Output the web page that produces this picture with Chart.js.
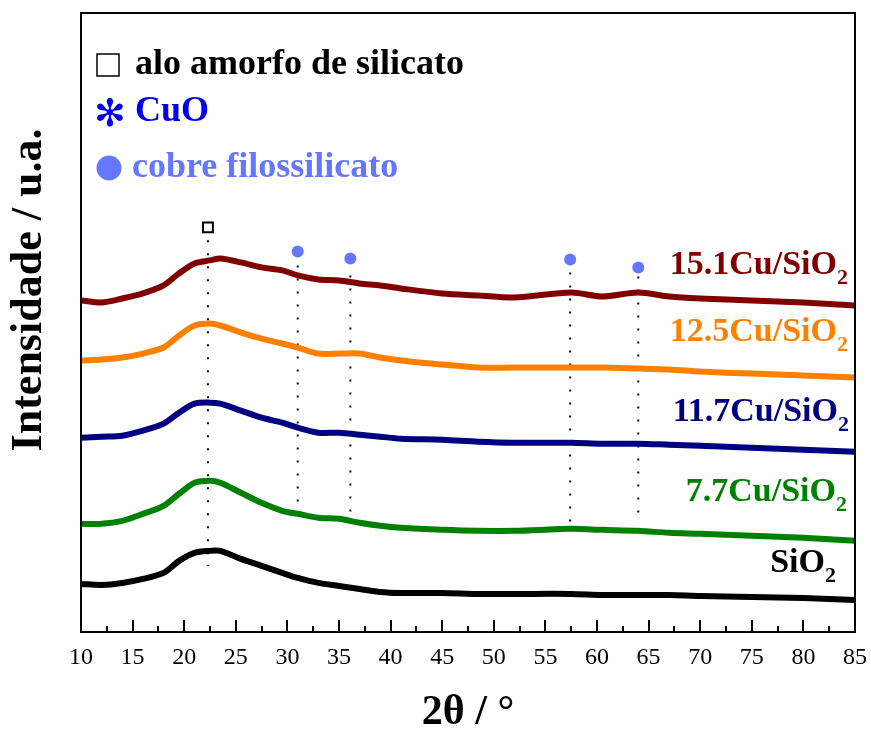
<!DOCTYPE html>
<html>
<head>
<meta charset="utf-8">
<script src="https://cdn.jsdelivr.net/npm/chart.js@4"></script>
<style>
  html, body { margin: 0; padding: 0; background: #fff; }
  #wrap { width: 871px; height: 733px; }
</style>
</head>
<body>
<div id="wrap"><canvas id="xrdChart" width="871" height="733"></canvas></div>
<script>
// 2θ positions where the traces were read
const twoTheta = [10, 12, 14, 16, 18, 19.5, 21, 22.5, 23.5, 25.5, 27.5, 29.5, 31, 33, 35, 37, 39, 41, 45, 48.5, 52, 57.5, 60.5, 64, 67, 70, 75, 80, 85];

// intensities (arbitrary units, already offset for stacking)
const sio2   = [48, 47, 49, 53, 59, 71, 79, 81, 81, 73, 66, 59, 54, 49, 46, 43, 40, 39, 39, 38, 38, 38, 37, 37, 37, 36, 35, 34, 32];
const cu77   = [108, 108, 111, 118, 126, 138, 149, 151, 149, 139, 129, 121, 118, 114, 113, 109, 106, 104, 102, 101, 101, 103, 102, 101, 99, 98, 96, 94, 91];
const cu117  = [194, 195, 196, 201, 208, 219, 228, 229, 228, 221, 214, 209, 204, 199, 199, 197, 195, 193, 192, 190, 189, 189, 188, 188, 187, 186, 184, 182, 180];
const cu125  = [271, 272, 274, 278, 284, 296, 306, 308, 306, 299, 293, 288, 284, 278, 278, 278, 274, 271, 267, 264, 264, 264, 264, 263, 262, 260, 258, 256, 254];
const cu151  = [331, 329, 333, 338, 346, 358, 368, 371, 373, 369, 364, 361, 356, 352, 351, 348, 346, 343, 338, 336, 334, 339, 335, 339, 335, 333, 331, 329, 326];

const seriesNames  = ["SiO2", "7.7Cu/SiO2", "11.7Cu/SiO2", "12.5Cu/SiO2", "15.1Cu/SiO2"];
const seriesColors = ["#000000", "#008000", "#000080", "#ff8000", "#800000"];

// phase markers
const amorphousPos = [22.3];
const amorphousY   = [404];
const phylloPos    = [31.0, 36.1, 57.4, 64.0];
const phylloY      = [380, 373, 372, 364];
// dotted guide lines: 2θ, top, bottom
const guideX      = [22.3, 31.0, 36.1, 57.4, 64.0];
const guideTop    = [391, 366, 356, 359, 355];
const guideBottom = [66, 121, 109, 108, 111];

const xTicks = [10, 15, 20, 25, 30, 35, 40, 45, 50, 55, 60, 65, 70, 75, 80, 85];

const serif = "'Liberation Serif', 'Times New Roman', serif";

function toPoints(ys) {
  return twoTheta.map((x, i) => ({ x: x, y: ys[i] }));
}

const datasets = [];

guideX.forEach((gx, i) => {
  datasets.push({
    data: [{ x: gx, y: guideTop[i] }, { x: gx, y: guideBottom[i] }],
    borderColor: "#000",
    borderWidth: 2,
    borderDash: [2, 11],
    pointRadius: 0,
    order: 10
  });
});

[sio2, cu77, cu117, cu125, cu151].forEach((ys, i) => {
  datasets.push({
    label: seriesNames[i],
    data: toPoints(ys),
    borderColor: seriesColors[i],
    borderWidth: 6,
    pointRadius: 0,
    tension: 0.3,
    order: 5
  });
});

datasets.push({
  data: amorphousPos.map((x, i) => ({ x: x, y: amorphousY[i] })),
  showLine: false,
  pointStyle: "rect",
  pointRadius: 7,
  pointBackgroundColor: "#fff",
  pointBorderColor: "#000",
  pointBorderWidth: 2,
  order: 1
});

datasets.push({
  data: phylloPos.map((x, i) => ({ x: x, y: phylloY[i] })),
  showLine: false,
  pointStyle: "circle",
  pointRadius: 6,
  pointBackgroundColor: "#6677ff",
  pointBorderColor: "#6677ff",
  pointBorderWidth: 0,
  order: 1
});

// frame, inward ticks, titles, legend and labels
const decorPlugin = {
  id: "decor",
  afterDatasetsDraw(chart) {
    const ctx = chart.ctx;
    const a = chart.chartArea;
    const xs = chart.scales.x;
    ctx.save();

    // frame
    ctx.strokeStyle = "#000";
    ctx.lineWidth = 2;
    ctx.strokeRect(a.left, a.top, a.right - a.left, a.bottom - a.top);

    // inward ticks
    for (let v = 10; v <= 85; v += 2.5) {
      const px = Math.round(xs.getPixelForValue(v));
      const len = (v % 5 === 0) ? 12 : 6;
      ctx.beginPath();
      ctx.moveTo(px, a.bottom);
      ctx.lineTo(px, a.bottom - len);
      ctx.stroke();
    }

    ctx.fillStyle = "#000";
    ctx.textAlign = "center";
    ctx.textBaseline = "middle";

    // x title
    ctx.font = "bold 42px " + serif;
    ctx.fillText("2\u03B8 / \u00B0", 468, 713);

    // y title
    ctx.save();
    ctx.translate(30, 290);
    ctx.rotate(-Math.PI / 2);
    ctx.font = "bold 44px " + serif;
    ctx.fillText("Intensidade / u.a.", 0, 0);
    ctx.restore();

    // legend
    ctx.textAlign = "left";
    ctx.lineWidth = 1.5;
    ctx.strokeRect(97, 54, 22, 22);
    ctx.font = "bold 36px " + serif;
    ctx.fillText("alo amorfo de silicato", 135, 65);

    ctx.fillStyle = "#0000ee";
    ctx.font = "bold 38px 'DejaVu Sans'";
    ctx.textAlign = "center";
    ctx.fillText("\u273B", 110, 116);
    ctx.textAlign = "left";
    ctx.font = "bold 36px " + serif;
    ctx.fillText("CuO", 135, 112);

    ctx.fillStyle = "#6677ff";
    ctx.beginPath();
    ctx.arc(109, 168, 12.5, 0, Math.PI * 2);
    ctx.fill();
    ctx.fillText("cobre filossilicato", 132, 168);

    // series labels with subscript 2
    const labelY = [563, 492, 412, 332, 265];
    const labelRight = [836, 847, 849, 848, 848];
    seriesNames.forEach((name, i) => {
      const main = name.slice(0, -1);
      ctx.font = "bold 22px " + serif;
      const subW = ctx.measureText("2").width;
      ctx.textAlign = "right";
      ctx.fillStyle = seriesColors[i];
      ctx.fillText("2", labelRight[i], labelY[i] + 13);
      ctx.font = "bold 34px " + serif;
      ctx.fillText(main, labelRight[i] - subW, labelY[i]);
    });

    ctx.restore();
  }
};

new Chart(document.getElementById("xrdChart"), {
  type: "line",
  data: { datasets: datasets },
  options: {
    responsive: false,
    animation: false,
    layout: { padding: { left: 81, right: 16, top: 13, bottom: 49 } },
    plugins: {
      legend: { display: false },
      tooltip: { enabled: false }
    },
    scales: {
      x: {
        type: "linear",
        min: 10,
        max: 85,
        afterBuildTicks: axis => { axis.ticks = xTicks.map(v => ({ value: v })); },
        afterFit: axis => { axis.paddingLeft = 0; axis.paddingRight = 0; },
        grid: { display: false, drawTicks: false },
        border: { display: false },
        ticks: {
          padding: 14,
          color: "#000",
          maxRotation: 0,
          autoSkip: false,
          font: { family: serif, size: 24, lineHeight: 1 }
        },
        title: { display: false }
      },
      y: {
        display: false,
        min: 0,
        max: 618
      }
    }
  },
  plugins: [decorPlugin]
});
</script>
</body>
</html>
